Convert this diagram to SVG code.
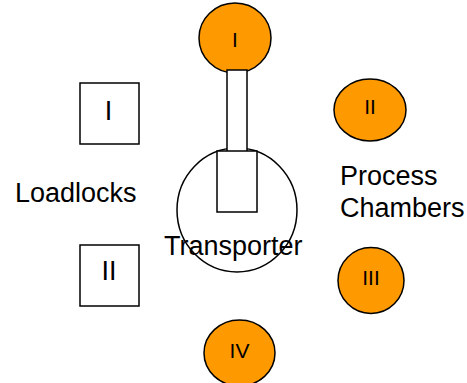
<svg xmlns="http://www.w3.org/2000/svg" width="467" height="383" viewBox="0 0 467 383">
<style>
.ch{fill:#FF9900;stroke:#000;stroke-width:1.5}
.bx{fill:#fff;stroke:#000;stroke-width:1.5}
.t{font-family:"Liberation Sans",Arial,sans-serif;fill:#000}
.num{font-size:21px;text-anchor:middle}
.big{font-size:27px;text-anchor:middle}
.lbl{font-size:27px}
</style>
<g id="transporter">
<ellipse cx="237" cy="210" rx="60" ry="62" fill="#fff" stroke="#000" stroke-width="1.5"/>
</g>
<g id="chamber1">
<ellipse class="ch" cx="235" cy="38" rx="36" ry="35"/>
<text class="t num" x="235" y="47">I</text>
</g>
<g id="arm">
<rect class="bx" x="227" y="70" width="20" height="82"/>
<rect class="bx" x="217" y="151" width="40" height="61"/>
</g>
<g id="transporter-label">
<text class="t lbl" x="164" y="255">Transporter</text>
</g>
<g id="chamber2">
<ellipse class="ch" cx="370" cy="110" rx="36" ry="31"/>
<text class="t num" x="370" y="113.5">II</text>
</g>
<g id="chamber3">
<ellipse class="ch" cx="371" cy="280.5" rx="33" ry="33"/>
<text class="t num" x="371" y="285">III</text>
</g>
<g id="chamber4">
<ellipse class="ch" cx="239.5" cy="353" rx="35.5" ry="33"/>
<text class="t num" x="239.5" y="358">IV</text>
</g>
<g id="process-label">
<text class="t lbl" x="340" y="185">Process</text>
<text class="t lbl" x="340" y="216.5">Chambers</text>
</g>
<g id="loadlock1">
<rect class="bx" x="80" y="83" width="59" height="61"/>
<text class="t big" x="108.5" y="120">I</text>
</g>
<g id="loadlock2">
<rect class="bx" x="80" y="245" width="59" height="61"/>
<text class="t big" x="109" y="280">II</text>
</g>
<g id="loadlocks-label">
<text class="t lbl" x="15" y="202">Loadlocks</text>
</g>
<g id="connectors"></g>
</svg>
